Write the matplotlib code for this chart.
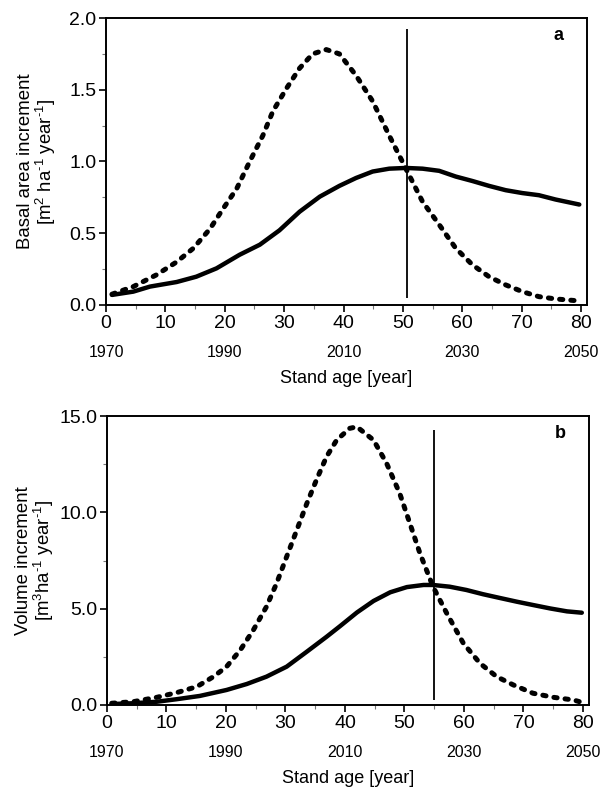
import numpy as np
import matplotlib.pyplot as plt
from matplotlib.ticker import MultipleLocator, FormatStrFormatter

plt.rcParams['font.family'] = ['Liberation Sans', 'DejaVu Sans']
plt.rcParams['mathtext.fontset'] = 'custom'
plt.rcParams['mathtext.rm'] = 'Liberation Sans'
plt.rcParams['mathtext.it'] = 'Liberation Sans:italic'

# --- panel a: basal area increment [m2 ha-1 year-1] ---
age_a_dash = [1.0, 4.6, 8.5, 11.9, 14.7, 17.5, 19.7, 22.0, 24.2, 26.4, 28.1, 30.4, 32.6,
              34.8, 37.1, 39.3, 42.1, 44.9, 47.7, 50.5, 53.3, 56.1, 58.9, 61.7, 64.5,
              67.3, 70.1, 72.9, 75.7, 79.7]
bai_dash = [0.075, 0.128, 0.21, 0.30, 0.395, 0.53, 0.67, 0.81, 1.00, 1.18, 1.35, 1.51, 1.65,
            1.75, 1.78, 1.75, 1.60, 1.42, 1.18, 0.95, 0.72, 0.56, 0.395, 0.28, 0.197,
            0.14, 0.093, 0.058, 0.042, 0.028]
age_a_solid = [1.0, 4.6, 7.4, 11.9, 15.2, 18.6, 22.5, 25.9, 29.2, 32.6, 36.0, 39.3, 42.1,
               44.9, 47.7, 50.5, 53.3, 56.1, 58.9, 61.7, 64.5, 67.3, 70.1, 72.9, 75.7, 79.7]
bai_solid = [0.07, 0.093, 0.128, 0.16, 0.197, 0.255, 0.35, 0.42, 0.52, 0.65, 0.755, 0.83, 0.885,
             0.93, 0.95, 0.955, 0.95, 0.935, 0.895, 0.864, 0.83, 0.80, 0.78, 0.765, 0.735, 0.70]
vline_a = 50.7
vline_a_span = (0.05, 1.92)

# --- panel b: volume increment [m3 ha-1 year-1] ---
age_b_dash = [0.8, 4.4, 8.4, 11.7, 15.1, 17.9, 20.1, 22.4, 24.6, 26.8, 28.5, 30.2, 31.9,
              33.6, 35.2, 36.9, 38.6, 40.8, 42.0, 44.8, 47.0, 49.2, 50.9, 52.6, 54.8,
              57.1, 59.9, 62.7, 65.5, 68.3, 71.6, 75.0, 78.4, 80.0]
vi_dash = [0.09, 0.17, 0.40, 0.64, 0.95, 1.47, 1.99, 2.85, 3.89, 5.10, 6.31, 7.70, 9.08,
           10.47, 11.68, 12.89, 13.75, 14.36, 14.44, 13.75, 12.54, 10.98, 9.43, 7.87, 6.14,
           4.76, 3.20, 2.16, 1.47, 1.04, 0.61, 0.40, 0.26, 0.12]
age_b_solid = [0.8, 4.4, 8.4, 11.7, 15.6, 20.1, 23.5, 26.8, 30.2, 33.6, 36.9, 39.2, 40.8,
               42.0, 44.8, 47.6, 50.4, 53.2, 54.8, 57.6, 60.4, 63.2, 66.1, 68.9, 71.6,
               74.5, 77.3, 79.8]
vi_solid = [0.05, 0.09, 0.17, 0.30, 0.47, 0.78, 1.09, 1.47, 1.99, 2.77, 3.54, 4.10, 4.50,
            4.80, 5.40, 5.85, 6.12, 6.23, 6.23, 6.14, 5.97, 5.75, 5.55, 5.36, 5.19,
            5.01, 4.86, 4.79]
vline_b = 54.9
vline_b_span = (0.26, 14.27)

year_ages = [0, 20, 40, 60, 80]
year_labels = ['1970', '1990', '2010', '2030', '2050']

fig = plt.figure(figsize=(6.03, 7.87), dpi=100)
ax_a = fig.add_axes([0.1758, 0.6125, 0.7977, 0.3646])
ax_b = fig.add_axes([0.1774, 0.1042, 0.7993, 0.3672])

panels = [
    (ax_a, age_a_dash, bai_dash, age_a_solid, bai_solid, vline_a, vline_a_span,
     (0, 2.0), 0.5, 0.25,
     'Basal area increment\n[m$^{2}$ ha$^{\\text{-1}}$ year$^{\\text{-1}}$]', 'a', -0.10),
    (ax_b, age_b_dash, vi_dash, age_b_solid, vi_solid, vline_b, vline_b_span,
     (0, 15.0), 5.0, 2.5,
     'Volume increment\n[m$^{3}$ha$^{\\text{-1}}$ year$^{\\text{-1}}$]', 'b', -0.105),
]

for ax, xd, yd, xs, ys, vx, vspan, ylim, ymaj, ymin, ylab, tag, ylx in panels:
    ax.plot(xd, yd, color='black', lw=3.6, linestyle=(0, (0.65, 1.6)),
            dash_capstyle='round')
    ax.plot(xs, ys, color='black', lw=3.2, solid_capstyle='round',
            solid_joinstyle='round')
    ax.vlines(vx, vspan[0], vspan[1], color='black', lw=1.3)

    ax.set_xlim(0, 81)
    ax.set_ylim(*ylim)
    ax.xaxis.set_major_locator(MultipleLocator(10))
    ax.xaxis.set_minor_locator(MultipleLocator(5))
    ax.yaxis.set_major_locator(MultipleLocator(ymaj))
    ax.yaxis.set_minor_locator(MultipleLocator(ymin))
    ax.yaxis.set_major_formatter(FormatStrFormatter('%.1f'))
    ax.tick_params(which='major', direction='out', length=5, width=1.2,
                   labelsize=14, pad=2)
    ax.tick_params(which='minor', direction='out', length=3, width=0.8, color='#777777')
    for s in ax.spines.values():
        s.set_linewidth(1.4)

    for ya, yl in zip(year_ages, year_labels):
        ax.text(ya, -0.165, yl, transform=ax.get_xaxis_transform(),
                ha='center', va='center', fontsize=11.5)

    ax.set_xlabel('Stand age [year]', fontsize=13)
    ax.xaxis.set_label_coords(0.5, -0.225)
    ax.set_ylabel(ylab, fontsize=13.4, linespacing=1.0)
    ax.yaxis.set_label_coords(ylx, 0.5)
    ax.text(0.94, 0.94, tag, transform=ax.transAxes, ha='center', va='center',
            fontsize=13, fontweight='bold')

fig.savefig('out.png', dpi=100)
